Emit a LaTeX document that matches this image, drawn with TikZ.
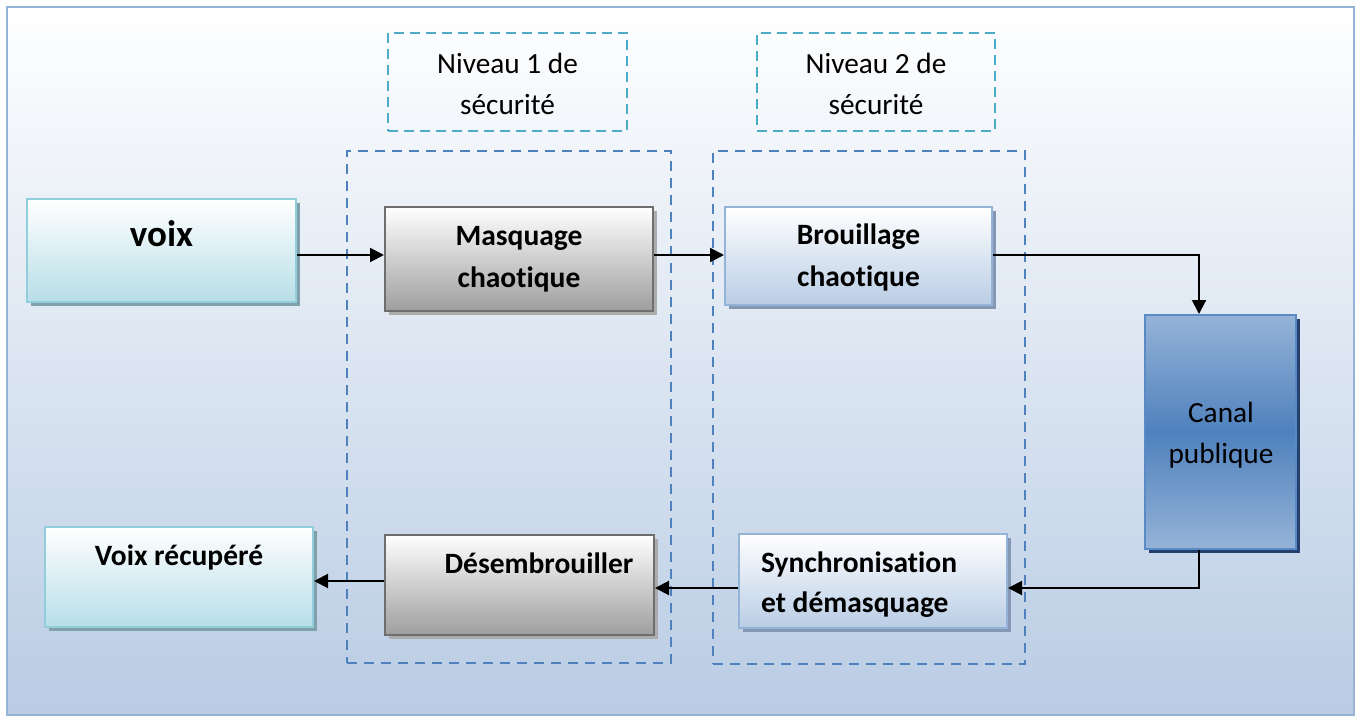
\documentclass[tikz,border=0pt]{standalone}
\usepackage{fontspec}
\setmainfont{Carlito}[Ligatures=NoCommon]
\usetikzlibrary{arrows.meta,shadows}

\definecolor{frameblue}{RGB}{149,179,215}
\definecolor{bgmid}{RGB}{228,234,243}
\definecolor{bgbottom}{RGB}{185,204,228}
\definecolor{aquafill}{RGB}{183,222,232}
\definecolor{aqualine}{RGB}{146,205,220}
\definecolor{aquashadow}{RGB}{128,160,172}
\definecolor{grayfill}{RGB}{158,158,158}
\definecolor{grayline}{RGB}{110,110,110}
\definecolor{grayshadow}{RGB}{172,172,172}
\definecolor{bluefill}{RGB}{185,205,229}
\definecolor{blueline}{RGB}{149,179,215}
\definecolor{blueshadow}{RGB}{132,152,182}
\definecolor{accentblue}{RGB}{79,129,189}
\definecolor{canalline}{RGB}{90,138,196}
\definecolor{canalshadow}{RGB}{37,64,110}
\definecolor{levelcyan}{RGB}{75,172,198}

% two stacked lines whose first baseline is the node's baseline
\newcommand{\twolines}[3]{\begin{tabular}[t]{@{}#1@{}}#2\\#3\end{tabular}}

\tikzset{
  box/.style={rectangle, draw, line width=2pt, inner sep=0pt},
  aquabox/.style={box, draw=aqualine, top color=white, bottom color=aquafill,
    drop shadow={shadow xshift=4pt, shadow yshift=-4pt, fill=aquashadow, opacity=1}},
  graybox/.style={box, draw=grayline, top color=white, bottom color=grayfill,
    drop shadow={shadow xshift=4pt, shadow yshift=-4pt, fill=grayshadow, opacity=1}},
  bluebox/.style={box, draw=blueline, top color=white, bottom color=bluefill,
    drop shadow={shadow xshift=4pt, shadow yshift=-4pt, fill=blueshadow, opacity=1}},
  canalbox/.style={box, draw=canalline, top color=blueline, bottom color=blueline,
    middle color=accentblue,
    drop shadow={shadow xshift=4pt, shadow yshift=-4pt, fill=canalshadow, opacity=1}},
  levelbox/.style={rectangle, draw=accentblue, line width=2pt, dash pattern=on 10pt off 7pt, inner sep=0pt},
  tagbox/.style={rectangle, draw=levelcyan, line width=2pt, dash pattern=on 10pt off 6pt, inner sep=0pt},
  boldtxt/.style={font=\fontsize{29.5}{42}\selectfont\bfseries, inner sep=0pt},
  plaintxt/.style={font=\fontsize{29.3}{41}\selectfont, inner sep=0pt},
  arr/.style={line width=2pt, -{Triangle[length=14pt,width=14pt]}},
}

\begin{document}
\begin{tikzpicture}[x=1pt,y=-1pt]
\useasboundingbox (0,0) rectangle (1360,720);
\fill[white] (0,0) rectangle (1360,720);
% page background and frame
\shade[top color=white, middle color=bgmid, bottom color=bgbottom] (7,7) rectangle (1354,715);
\draw[frameblue, line width=2.5pt] (7,7) rectangle (1354,715);

% security levels
\node[levelbox, minimum width=324pt, minimum height=512pt] (lvlA) at (509,407) {};
\node[levelbox, minimum width=312pt, minimum height=513pt] (lvlB) at (869,407.5) {};
\node[tagbox, minimum width=239pt, minimum height=98pt] (tagA) at (507.5,82) {};
\node[tagbox, minimum width=238pt, minimum height=98pt] (tagB) at (876,82) {};
\node[plaintxt, anchor=base] (tagAtxt) at (507.5,73) {\twolines{c}{Niveau 1 de}{sécurité}};
\node[plaintxt, anchor=base] (tagBtxt) at (876,73) {\twolines{c}{Niveau 2 de}{sécurité}};

% processing blocks
\node[aquabox, minimum width=269pt, minimum height=103pt] (voix) at (161.5,250.5) {};
\node[graybox, minimum width=268pt, minimum height=104pt] (masq) at (519,259) {};
\node[bluebox, minimum width=267pt, minimum height=98pt] (brou) at (858.5,256) {};
\node[canalbox, minimum width=151pt, minimum height=234pt] (canal) at (1220.5,432) {};
\node[bluebox, minimum width=268pt, minimum height=94pt] (sync) at (873,581) {};
\node[graybox, minimum width=269pt, minimum height=100pt] (desem) at (519.5,585) {};
\node[aquabox, minimum width=268pt, minimum height=100pt] (recup) at (179,577) {};

% block labels
\node[font=\fontsize{37}{44}\selectfont\bfseries, inner sep=0pt, anchor=base] (voixtxt) at (161.5,246) {voix};
\node[boldtxt, anchor=base] (masqtxt) at (519,245) {\twolines{c}{Masquage}{chaotique}};
\node[boldtxt, anchor=base] (broutxt) at (858.5,244) {\twolines{c}{Brouillage}{chaotique}};
\node[plaintxt, anchor=base] (canaltxt) at (1221,422) {\twolines{c}{Canal}{publique}};
\node[boldtxt, font=\fontsize{29.5}{40}\selectfont\bfseries, anchor=base west] (synctxt) at (761,572) {\twolines{l}{Synchronisation}{et démasquage}};
\node[boldtxt, anchor=base] (desemtxt) at (539,573) {Désembrouiller};
\node[boldtxt, anchor=base] (recuptxt) at (179,565) {Voix récupéré};

% connector rows and column
\coordinate (rowA) at (0,255);
\coordinate (rowB) at (0,581);
\coordinate (rowC) at (0,588);
\coordinate (colX) at (1199,0);

\draw[arr] (voix.east |- rowA) -- (masq.west |- rowA);
\draw[arr] (masq.east |- rowA) -- (brou.west |- rowA);
\draw[arr] (brou.east |- rowA) -| (colX |- canal.north);
\draw[arr] (colX |- canal.south) |- (sync.east |- rowC);
\draw[arr] (sync.west |- rowC) -- (desem.east |- rowC);
\draw[arr] (desem.west |- rowB) -- (recup.east |- rowB);
\end{tikzpicture}
\end{document}
